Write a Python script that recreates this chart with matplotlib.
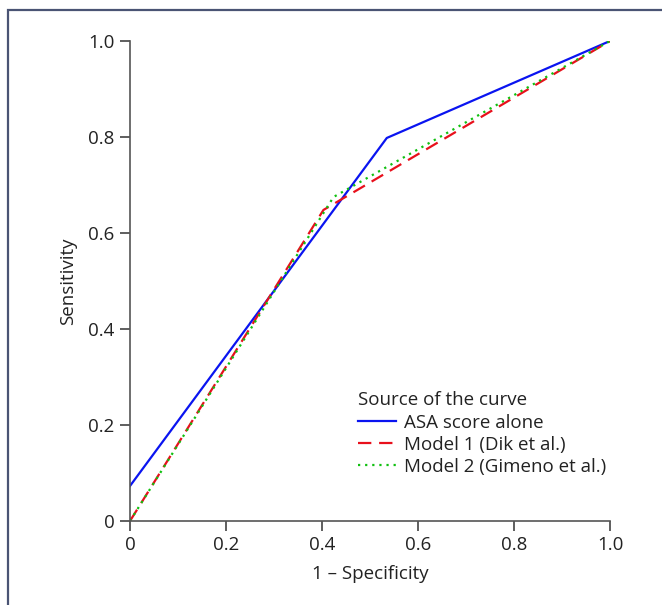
import matplotlib.pyplot as plt
from matplotlib.patches import Rectangle
from matplotlib.ticker import FuncFormatter

plt.rcParams["font.family"] = ["Open Sans", "DejaVu Sans"]

# ROC curve points (1 - specificity, sensitivity)
asa_x = [0.0, 0.535, 1.0]
asa_y = [0.073, 0.798, 1.0]
model1_x = [0.0, 0.403, 1.0]
model1_y = [0.0, 0.648, 1.0]
model2_x = [0.0, 0.424, 1.0]
model2_y = [0.0, 0.675, 1.0]

labels = ["ASA score alone", "Model 1 (Dik et al.)", "Model 2 (Gimeno et al.)"]
ticks = [0, 0.2, 0.4, 0.6, 0.8, 1.0]

fs = 13.5

fig = plt.figure(figsize=(6.62, 6.05), dpi=100)
ax = fig.add_axes([130 / 662, 1 - 521 / 605, 480 / 662, 480 / 605])

ax.plot(asa_x, asa_y, color="#0a14f0", lw=1.6, label=labels[0])
ax.plot(model1_x, model1_y, color="#e8101c", lw=1.6, dashes=(6, 3.5), label=labels[1])
ax.plot(model2_x, model2_y, color="#10c010", lw=1.6, dashes=(1, 2.2), label=labels[2])

ax.set_xlim(0, 1)
ax.set_ylim(0, 1)
ax.set_xticks(ticks)
ax.set_yticks(ticks)
fmt = FuncFormatter(lambda v, p: "0" if v == 0 else f"{v:.1f}")
ax.xaxis.set_major_formatter(fmt)
ax.yaxis.set_major_formatter(fmt)
for s in ["top", "right"]:
    ax.spines[s].set_visible(False)
for s in ["left", "bottom"]:
    ax.spines[s].set_color("#555555")
    ax.spines[s].set_linewidth(1.2)
ax.tick_params(direction="out", length=7, width=1.1, color="#333333",
               labelsize=fs, labelcolor="#222222", pad=4)
ax.set_xlabel("1 \u2013 Specificity", fontsize=fs, color="#222222", labelpad=8)
ax.set_ylabel("Sensitivity", fontsize=fs, color="#222222", labelpad=8)

leg = ax.legend(title="Source of the curve", loc="upper left",
                bbox_to_anchor=(0.475, 0.27), frameon=False, fontsize=fs,
                title_fontsize=fs, handlelength=2.0, handletextpad=0.45,
                labelspacing=0.22, borderpad=0, borderaxespad=0,
                alignment="left")
for t in leg.get_texts():
    t.set_color("#222222")
leg.get_title().set_color("#222222")

# page frame around the figure
fig.patches.append(Rectangle((8 / 662, -0.05), 2.0, 1.05 - 10 / 605,
                             transform=fig.transFigure, fill=False,
                             edgecolor="#4a5474", lw=1.6))

fig.savefig("out.png", dpi=100)
